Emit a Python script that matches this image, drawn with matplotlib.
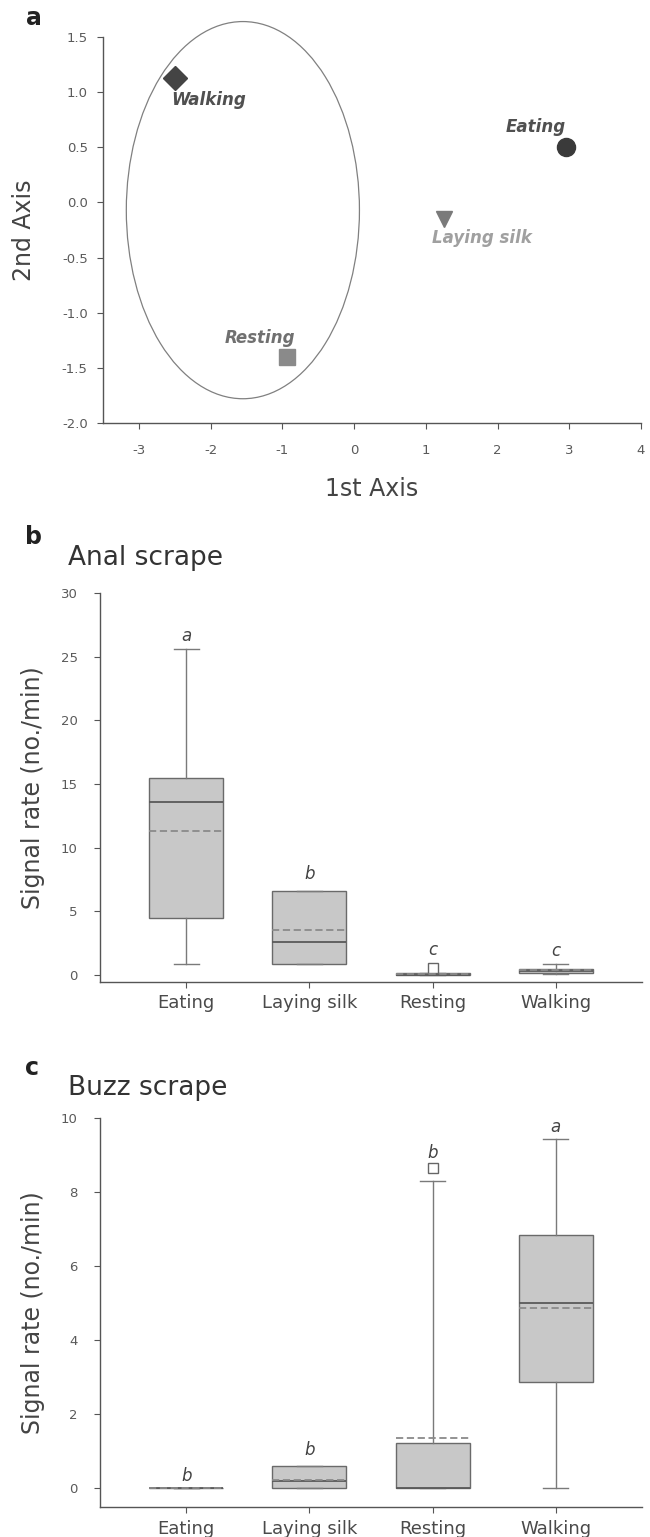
import matplotlib
matplotlib.use("Agg")
import matplotlib.pyplot as plt
from matplotlib.patches import Ellipse

plt.rcParams['font.family'] = ['DejaVu Sans']

# ---- Panel a data (ordination) ----
beh_a = ["Walking", "Eating", "Laying silk", "Resting"]
axis1 = [-2.5, 2.95, 1.25, -0.93]
axis2 = [1.13, 0.5, -0.15, -1.4]
markers_a = ["D", "o", "v", "s"]
colors_a = ["#444444", "#3a3a3a", "#7a7a7a", "#8a8a8a"]
label_x = [-2.55, 2.12, 1.08, -1.80]
label_y = [0.93, 0.68, -0.32, -1.23]
label_col = ["#505050", "#505050", "#a0a0a0", "#707070"]
ellipse_center = (-1.55, -0.07)
ellipse_w, ellipse_h = 3.25, 3.42

# ---- Panel b/c data (box stats) ----
cats = ["Eating", "Laying silk", "Resting", "Walking"]

anal_q1 = [4.45, 0.9, 0.0, 0.15]
anal_med = [13.6, 2.6, 0.0, 0.35]
anal_q3 = [15.5, 6.6, 0.15, 0.5]
anal_mean = [11.3, 3.5, 0.1, 0.38]
anal_lo = [0.86, 0.9, 0.0, 0.1]
anal_hi = [25.6, 6.6, 0.15, 0.85]
anal_fliers = [[], [], [0.55], []]
anal_letters = ["a", "b", "c", "c"]
anal_letter_y = [26.6, 7.9, 2.0, 1.9]

buzz_q1 = [0.0, 0.0, 0.0, 2.88]
buzz_med = [0.0, 0.2, 0.0, 5.0]
buzz_q3 = [0.0, 0.62, 1.22, 6.85]
buzz_mean = [0.0, 0.23, 1.35, 4.87]
buzz_lo = [0.0, 0.0, 0.0, 0.0]
buzz_hi = [0.0, 0.62, 8.3, 9.43]
buzz_fliers = [[], [], [8.65], []]
buzz_letters = ["b", "b", "b", "a"]
buzz_letter_y = [0.35, 1.05, 9.05, 9.75]

W, H = 650, 1537
fig = plt.figure(figsize=(W / 100, H / 100), dpi=100)

def frac(l, t, r, b):
    return [l / W, 1 - b / H, (r - l) / W, (b - t) / H]

spine_col = "#555555"

def style_axes(ax):
    for s in ["top", "right"]:
        ax.spines[s].set_visible(False)
    for s in ["left", "bottom"]:
        ax.spines[s].set_color(spine_col)
        ax.spines[s].set_linewidth(1.0)
    ax.tick_params(direction="out", length=4, width=0.8, colors=spine_col,
                   labelcolor="#5a5a5a", labelsize=9.5)

def ylabel_at(ax, text, xpix, rect, size):
    l, t, r, b = rect
    ax.set_ylabel(text, fontsize=size, color="#444444")
    ax.yaxis.set_label_coords((xpix - l) / (r - l), 0.5)

# ---- Panel a ----
rect_a = (103, 37, 641, 423)
ax = fig.add_axes(frac(*rect_a))
style_axes(ax)
ax.set_xlim(-3.5, 4)
ax.set_ylim(-2.0, 1.5)
ax.set_xticks(range(-3, 5))
ax.set_xticklabels([str(v) for v in range(-3, 5)])
yt_a = [1.5, 1.0, 0.5, 0.0, -0.5, -1.0, -1.5, -2.0]
ax.set_yticks(yt_a)
ax.set_yticklabels(["%.1f" % v for v in yt_a])
ax.tick_params(axis="x", pad=11)
ax.tick_params(axis="y", pad=7)
ell = Ellipse(ellipse_center, ellipse_w, ellipse_h, fill=False,
              edgecolor="#808080", linewidth=0.9, clip_on=False)
ax.add_patch(ell)
msizes = [12, 13, 12, 12]
for i in range(len(beh_a)):
    ax.plot(axis1[i], axis2[i], marker=markers_a[i], color=colors_a[i],
            markersize=msizes[i], linestyle="none", clip_on=False)
    ax.text(label_x[i], label_y[i], beh_a[i], color=label_col[i],
            fontsize=12, fontweight="bold", fontstyle="italic",
            ha="left", va="center")
ax.set_xlabel("1st Axis", fontsize=17, color="#444444")
ax.xaxis.set_label_coords(0.5, -(477 - 423) / (423 - 37))
ylabel_at(ax, "2nd Axis", 36, rect_a, 17)
fig.text(26 / W, 1 - 18 / H, "a", fontsize=17, fontweight="bold",
         ha="left", va="center", color="#222222")

def box_panel(rect, q1, med, q3, mean, lo, hi, fliers, letters, letter_y,
              ylim, yticks, title, letter, letter_pos, title_pos):
    ax = fig.add_axes(frac(*rect))
    style_axes(ax)
    stats = []
    for i in range(len(cats)):
        stats.append(dict(label=cats[i], q1=q1[i], med=med[i], q3=q3[i],
                          mean=mean[i], whislo=lo[i], whishi=hi[i],
                          fliers=fliers[i]))
    ax.bxp(stats, positions=range(1, len(cats) + 1), widths=0.6,
           patch_artist=True, showmeans=True, meanline=True,
           boxprops=dict(facecolor="#c8c8c8", edgecolor="#6a6a6a", linewidth=1.0),
           medianprops=dict(color="#5a5a5a", linewidth=1.3),
           meanprops=dict(color="#8a8a8a", linestyle=(0, (4, 2)), linewidth=1.3),
           whiskerprops=dict(color="#7a7a7a", linewidth=1.0),
           capprops=dict(color="#7a7a7a", linewidth=1.0),
           capwidths=0.2,
           flierprops=dict(marker="s", markerfacecolor="white",
                           markeredgecolor="#666666", markersize=7))
    for i in range(len(cats)):
        ax.text(i + 1, letter_y[i], letters[i], fontsize=12, fontstyle="italic",
                ha="center", va="center", color="#444444")
    ax.set_xlim(0.3, 4.7)
    ax.set_ylim(*ylim)
    ax.set_yticks(yticks)
    ax.set_yticklabels([str(v) for v in yticks])
    ax.set_xticks(range(1, len(cats) + 1))
    ax.set_xticklabels(cats, fontsize=13, color="#4a4a4a")
    ax.tick_params(axis="x", pad=5)
    ax.tick_params(axis="y", pad=12)
    ax.spines["left"].set_bounds(ylim[0], yticks[-1])
    ylabel_at(ax, "Signal rate (no./min)", 45, rect, 17)
    fig.text(title_pos[0] / W, 1 - title_pos[1] / H, title, fontsize=19,
             ha="left", va="center", color="#333333")
    fig.text(letter_pos[0] / W, 1 - letter_pos[1] / H, letter, fontsize=17,
             fontweight="bold", ha="left", va="center", color="#222222")
    return ax

box_panel((100, 593, 642, 982), anal_q1, anal_med, anal_q3, anal_mean,
          anal_lo, anal_hi, anal_fliers, anal_letters, anal_letter_y,
          (-0.55, 30), [0, 5, 10, 15, 20, 25, 30], "Anal scrape", "b",
          (25, 537), (68, 558))

box_panel((100, 1118, 642, 1507), buzz_q1, buzz_med, buzz_q3, buzz_mean,
          buzz_lo, buzz_hi, buzz_fliers, buzz_letters, buzz_letter_y,
          (-0.5, 10), [0, 2, 4, 6, 8, 10], "Buzz scrape", "c",
          (25, 1068), (68, 1088))

fig.savefig("out.png", dpi=100, facecolor="white")
